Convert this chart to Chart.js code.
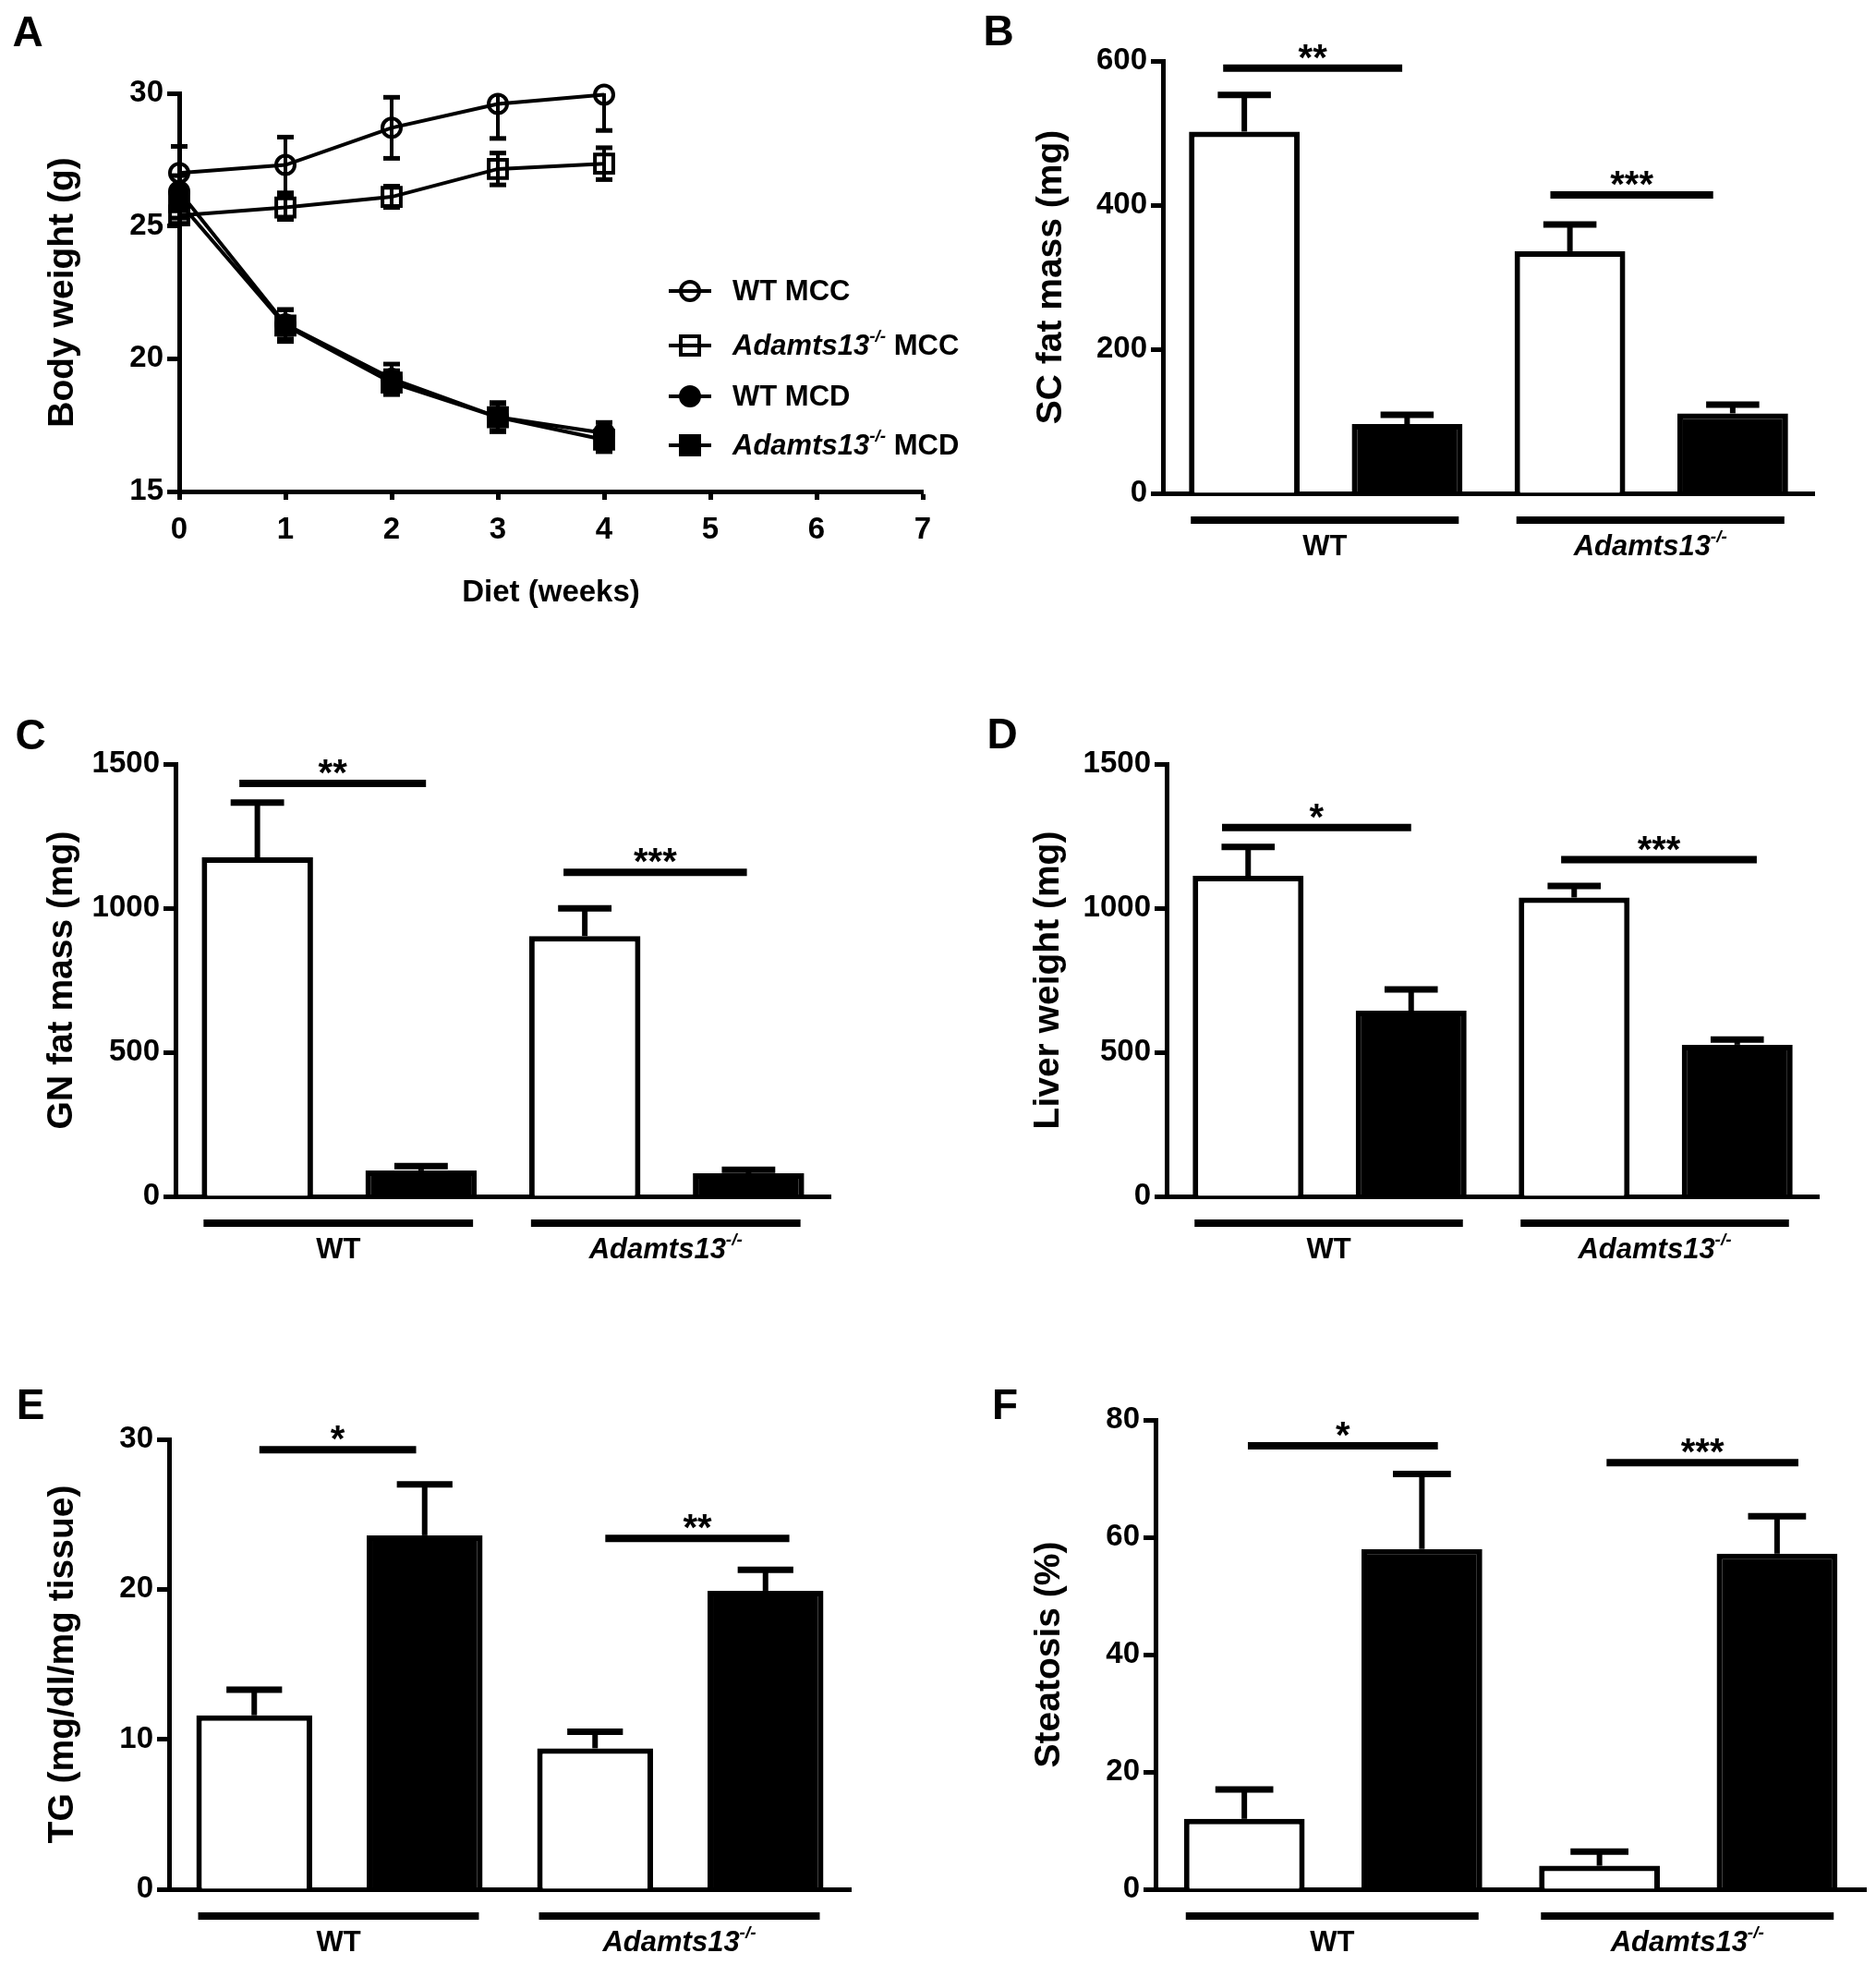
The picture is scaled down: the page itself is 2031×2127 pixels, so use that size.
<!DOCTYPE html>
<html>
<head>
<meta charset="utf-8">
<script src="https://cdn.jsdelivr.net/npm/chart.js@4.4.0/dist/chart.umd.min.js"></script>
<style>
  html, body { margin: 0; padding: 0; background: #fff; }
  #fig { position: relative; width: 2031px; height: 2127px; overflow: hidden; background: #fff; }
  #fig canvas { position: absolute; left: 0; top: 0; }
</style>
</head>
<body>
<div id="fig">
  <canvas id="pA" width="2031" height="2127"></canvas>
  <canvas id="pB" width="2031" height="2127"></canvas>
  <canvas id="pC" width="2031" height="2127"></canvas>
  <canvas id="pD" width="2031" height="2127"></canvas>
  <canvas id="pE" width="2031" height="2127"></canvas>
  <canvas id="pF" width="2031" height="2127"></canvas>
</div>
<script>
const FONT = '"Liberation Sans", Arial, Helvetica, sans-serif';
const W = 2031, H = 2127;

// ---- panel A: body weight over time ----
const weeks = [0, 1, 2, 3, 4];
const seriesNames = ['WT MCC', 'Adamts13-/- MCC', 'WT MCD', 'Adamts13-/- MCD'];
const wtMcc = [27.0, 27.3, 28.7, 29.6, 29.95];
const wtMccSem = [1.0, 1.05, 1.15, 1.3, 1.35];
const koMcc = [25.4, 25.7, 26.1, 27.15, 27.35];
const koMccSem = [0.3, 0.45, 0.4, 0.6, 0.6];
const wtMcd = [26.3, 21.3, 19.25, 17.8, 17.2];
const wtMcdSem = [0.6, 0.55, 0.55, 0.5, 0.4];
const koMcd = [25.9, 21.25, 19.1, 17.8, 16.95];
const koMcdSem = [0.6, 0.6, 0.45, 0.55, 0.45];

// ---- panels B-F: bars (WT MCC, WT MCD, KO MCC, KO MCD) ----
const genotypes = ['WT', 'Adamts13-/-'];
const diets = ['MCC', 'MCD'];
const scFat = [502, 96, 336, 111];
const scFatSem = [51, 13, 37, 12];
const gnFat = [1176, 90, 903, 80];
const gnFatSem = [190, 15, 96, 12];
const liver = [1112, 644, 1037, 526];
const liverSem = [100, 74, 40, 18];
const tg = [11.6, 23.6, 9.4, 19.9];
const tgSem = [1.7, 3.4, 1.1, 1.4];
const steatosis = [12, 58, 4, 57.2];
const steatosisSem = [5, 12.8, 2.4, 6.4];

const sigB = ['**', '***'];
const sigC = ['**', '***'];
const sigD = ['*', '***'];
const sigE = ['*', '**'];
const sigF = ['*', '***'];

const barLabels = genotypes.flatMap(g => diets.map(d => g + ' ' + d));
const barFill = barLabels.map(l => l.endsWith('MCD') ? '#000' : '#fff');

// layout of each panel (page pixels)
const panels = {
  pA: { letter: 'A', lx: 30, ly: 37, area: { l: 194, r: 999, t: 101, b: 532 }, titleX: 68,
        yTitle: 'Body weight (g)', sems: [wtMccSem, koMccSem, wtMcdSem, koMcdSem],
        legend: { x0: 724, x1: 770, xm: 747, xt: 793, rows: [315, 374, 429, 482] } },
  pB: { letter: 'B', lx: 1081, ly: 36, area: { l: 1259, r: 1964, t: 66, b: 534 }, titleX: 1138,
        yTitle: 'SC fat mass (mg)', mean: scFat, sem: scFatSem, max: 600, step: 200,
        sig: sigB, sigPos: [[590, -0.13, 0.97], [414, 1.88, 2.88]] },
  pC: { letter: 'C', lx: 33, ly: 798, area: { l: 190, r: 899, t: 827, b: 1295 }, titleX: 67,
        yTitle: 'GN fat mass (mg)', mean: gnFat, sem: gnFatSem, max: 1500, step: 500,
        sig: sigC, sigPos: [[1433, -0.11, 1.03], [1124, 1.87, 2.99]] },
  pD: { letter: 'D', lx: 1085, ly: 797, area: { l: 1263, r: 1969, t: 827, b: 1295 }, titleX: 1135,
        yTitle: 'Liver weight (mg)', mean: liver, sem: liverSem, max: 1500, step: 500,
        sig: sigD, sigPos: [[1280, -0.16, 1.0], [1168, 1.92, 3.12]] },
  pE: { letter: 'E', lx: 33, ly: 1523, area: { l: 183, r: 921, t: 1558, b: 2045 }, titleX: 68,
        yTitle: 'TG (mg/dl/mg tissue)', mean: tg, sem: tgSem, max: 30, step: 10,
        sig: sigE, sigPos: [[29.3, 0.03, 0.95], [23.4, 2.06, 3.14]] },
  pF: { letter: 'F', lx: 1088, ly: 1523, area: { l: 1251, r: 2020, t: 1537, b: 2045 }, titleX: 1136,
        yTitle: 'Steatosis (%)', mean: steatosis, sem: steatosisSem, max: 80, step: 20,
        sig: sigF, sigPos: [[75.6, 0.02, 1.09], [72.7, 2.04, 3.12]] }
};

const TICK = { family: FONT, size: 33, weight: 'bold' };
const YTITLE = { family: FONT, size: 39, weight: 'bold' };

function richParts(label) {
  const i = label.indexOf('-/-');
  if (i < 0) return [{ t: label }];
  return [{ t: label.slice(0, i), it: true }, { t: '-/-', it: true, sup: true }, { t: label.slice(i + 3) }];
}

function drawRich(ctx, label, x, y, size, align) {
  const parts = richParts(label);
  const fontOf = p => (p.it ? 'italic ' : '') + 'bold ' + (p.sup ? Math.round(size * 0.62) : size) + 'px ' + FONT;
  let w = 0;
  parts.forEach(p => { ctx.font = fontOf(p); p.w = ctx.measureText(p.t).width; w += p.w; });
  let cx = align === 'center' ? x - w / 2 : x;
  ctx.textAlign = 'left';
  ctx.textBaseline = 'middle';
  parts.forEach(p => {
    ctx.font = fontOf(p);
    ctx.fillText(p.t, cx, p.sup ? y - size * 0.32 : y);
    cx += p.w;
  });
}

function hline(ctx, x0, x1, y, lw) {
  ctx.lineWidth = lw;
  ctx.beginPath();
  ctx.moveTo(x0, y);
  ctx.lineTo(x1, y);
  ctx.stroke();
}

function drawMarker(ctx, style, fill, x, y) {
  ctx.beginPath();
  if (style === 'rect') ctx.rect(x - 10, y - 10, 20, 20);
  else ctx.arc(x, y, 10, 0, Math.PI * 2);
  if (fill !== 'rgba(0,0,0,0)') { ctx.fillStyle = fill; ctx.fill(); }
  ctx.lineWidth = 4;
  ctx.stroke();
}

const deco = {
  id: 'deco',
  beforeDatasetsDraw(chart) {
    const p = panels[chart.canvas.id];
    if (!p.sems) return;
    const ctx = chart.ctx, xs = chart.scales.x, ys = chart.scales.y, a = chart.chartArea;
    ctx.save();
    ctx.beginPath();
    ctx.rect(0, a.top, W, a.bottom - a.top);
    ctx.clip();
    ctx.strokeStyle = '#000';
    chart.data.datasets.forEach((ds, i) => {
      ds.data.forEach((pt, j) => {
        const x = xs.getPixelForValue(pt.x);
        const y0 = ys.getPixelForValue(pt.y - p.sems[i][j]);
        const y1 = ys.getPixelForValue(pt.y + p.sems[i][j]);
        ctx.lineWidth = 4;
        ctx.beginPath(); ctx.moveTo(x, y0); ctx.lineTo(x, y1); ctx.stroke();
        hline(ctx, x - 9, x + 9, y0, 5);
        hline(ctx, x - 9, x + 9, y1, 5);
      });
    });
    ctx.restore();
  },
  afterDatasetsDraw(chart) {
    const p = panels[chart.canvas.id];
    if (!p.mean) return;
    const ctx = chart.ctx, ys = chart.scales.y;
    const meta = chart.getDatasetMeta(0);
    ctx.save();
    ctx.strokeStyle = '#000';
    meta.data.forEach((bar, i) => {
      const yErr = ys.getPixelForValue(p.mean[i] + p.sem[i]);
      ctx.lineWidth = 6;
      ctx.beginPath(); ctx.moveTo(bar.x, bar.y); ctx.lineTo(bar.x, yErr); ctx.stroke();
      hline(ctx, bar.x - bar.width * 0.24, bar.x + bar.width * 0.24, yErr, 7);
    });
    ctx.restore();
  },
  afterDraw(chart) {
    const p = panels[chart.canvas.id];
    const ctx = chart.ctx, xs = chart.scales.x, ys = chart.scales.y, a = chart.chartArea;
    ctx.save();
    ctx.fillStyle = '#000';
    ctx.strokeStyle = '#000';
    ctx.font = 'bold 46px ' + FONT;
    ctx.textAlign = 'center';
    ctx.textBaseline = 'middle';
    ctx.fillText(p.letter, p.lx, p.ly);

    if (p.legend) {
      const L = p.legend;
      chart.data.datasets.forEach((ds, i) => {
        const y = L.rows[i];
        ctx.strokeStyle = '#000';
        hline(ctx, L.x0, L.x1, y, 4);
        drawMarker(ctx, ds.pointStyle, ds.pointBackgroundColor, L.xm, y);
        ctx.fillStyle = '#000';
        drawRich(ctx, seriesNames[i], L.xt, y + 1, 31, 'left');
      });
    }

    if (p.mean) {
      // significance bars
      p.sig.forEach((s, k) => {
        const [lv, from, to] = p.sigPos[k];
        const y = ys.getPixelForValue(lv);
        const x0 = xs.getPixelForValue(from), x1 = xs.getPixelForValue(to);
        hline(ctx, x0, x1, y, 8);
        ctx.font = 'bold 40px ' + FONT;
        ctx.textAlign = 'center';
        ctx.textBaseline = 'alphabetic';
        ctx.fillText(s, (x0 + x1) / 2, y + 2);
      });
      // genotype group lines and labels
      const meta = chart.getDatasetMeta(0);
      genotypes.forEach((g, k) => {
        const b0 = meta.data[2 * k], b1 = meta.data[2 * k + 1];
        const x0 = b0.x - b0.width / 2 + 2, x1 = b1.x + b1.width / 2 - 4;
        hline(ctx, x0, x1, a.bottom + 29, 8);
        drawRich(ctx, g, (x0 + x1) / 2, a.bottom + 58, 31, 'center');
      });
    }
    ctx.restore();
  }
};

function yScale(p, min, max, step) {
  const padLeft = p.titleX - YTITLE.size * 1.2 / 2;
  return {
    min: min, max: max,
    ticks: { stepSize: step, color: '#000', font: TICK, padding: 4, callback: v => String(v) },
    grid: { drawOnChartArea: false, drawTicks: true, tickLength: 13, tickWidth: 5, tickColor: '#000' },
    border: { display: true, color: '#000', width: 5 },
    title: { display: true, text: p.yTitle, color: '#000', font: YTITLE, padding: 0 },
    afterFit: s => { s.width = p.area.l - padLeft; }
  };
}

function basePadding(p, xHeight) {
  return {
    left: p.titleX - YTITLE.size * 1.2 / 2,
    top: p.area.t,
    right: W - p.area.r,
    bottom: H - p.area.b - xHeight
  };
}

// panel A
(function () {
  const p = panels.pA;
  const means = [wtMcc, koMcc, wtMcd, koMcd];
  const styles = ['circle', 'rect', 'circle', 'rect'];
  const fills = ['rgba(0,0,0,0)', 'rgba(0,0,0,0)', '#000', '#000'];
  new Chart(document.getElementById('pA'), {
    type: 'line',
    data: {
      datasets: seriesNames.map((name, i) => ({
        label: name,
        data: weeks.map((w, j) => ({ x: w, y: means[i][j] })),
        borderColor: '#000',
        borderWidth: 4,
        pointStyle: styles[i],
        pointRadius: styles[i] === 'rect' ? 14 : 10,
        pointBackgroundColor: fills[i],
        pointBorderColor: '#000',
        pointBorderWidth: 4,
        tension: 0,
        clip: false
      }))
    },
    options: {
      responsive: false, animation: false, events: [], devicePixelRatio: 1,
      layout: { padding: basePadding(p, 130) },
      plugins: { legend: { display: false }, tooltip: { enabled: false } },
      scales: {
        x: {
          type: 'linear', min: 0, max: 7,
          ticks: { stepSize: 1, color: '#000', font: TICK, padding: 13 },
          grid: { drawOnChartArea: false, drawTicks: true, tickLength: 9, tickWidth: 5, tickColor: '#000' },
          border: { display: true, color: '#000', width: 5 },
          title: { display: true, text: 'Diet (weeks)', color: '#000', font: TICK, padding: 0 },
          afterFit: s => { s.height = 130; }
        },
        y: yScale(p, 15, 30, 5)
      }
    },
    plugins: [deco]
  });
})();

// bar panels
['pB', 'pC', 'pD', 'pE', 'pF'].forEach(id => {
  const p = panels[id];
  new Chart(document.getElementById(id), {
    type: 'bar',
    data: {
      labels: barLabels,
      datasets: [{
        data: p.mean,
        backgroundColor: barFill,
        borderColor: '#000',
        borderWidth: 6,
        barPercentage: 0.68,
        categoryPercentage: 1
      }]
    },
    options: {
      responsive: false, animation: false, events: [], devicePixelRatio: 1,
      layout: { padding: basePadding(p, 0) },
      plugins: { legend: { display: false }, tooltip: { enabled: false } },
      scales: {
        x: {
          offset: true,
          grid: { display: false },
          ticks: { display: false },
          border: { display: true, color: '#000', width: 5 },
          afterFit: s => { s.height = 0; }
        },
        y: yScale(p, 0, p.max, p.step)
      }
    },
    plugins: [deco]
  });
});
</script>
</body>
</html>
